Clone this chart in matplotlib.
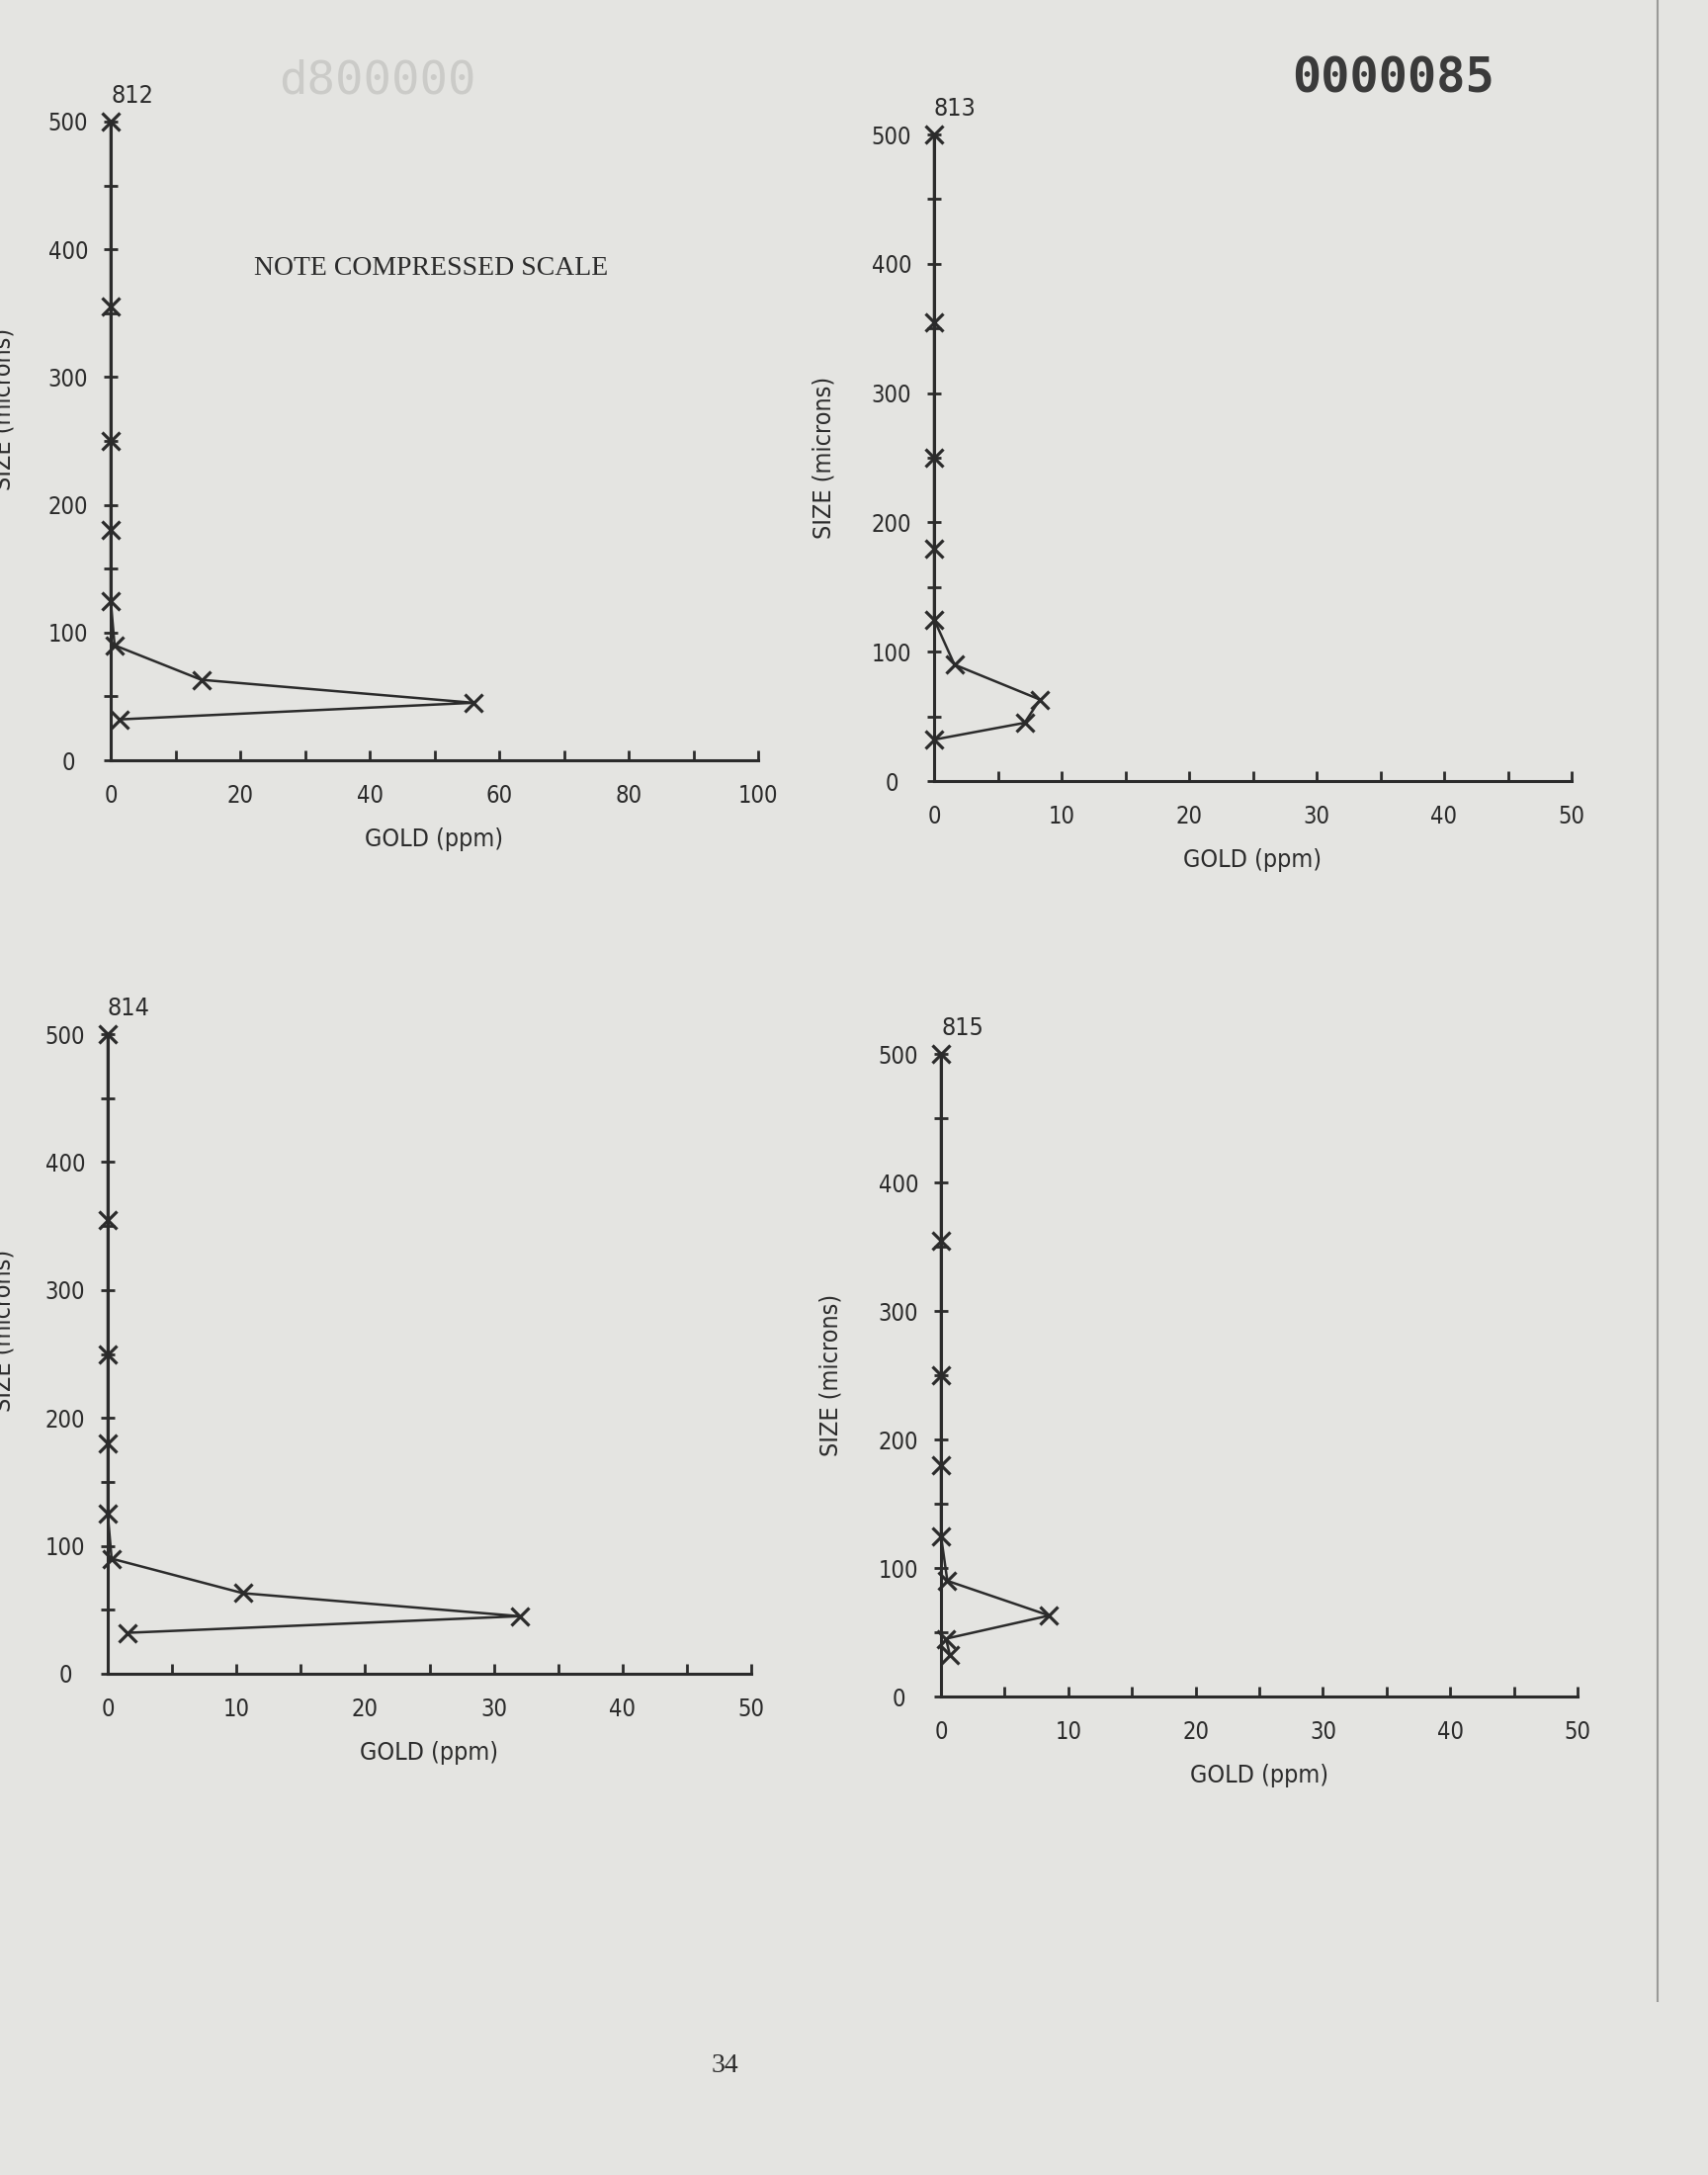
import matplotlib.pyplot as plt
from matplotlib.ticker import MultipleLocator

# sieve sizes (microns) and gold assays (ppm)
sizes = [500, 355, 250, 180, 125, 90, 63, 45, 32]
gold_812 = [0, 0, 0, 0, 0, 0.6, 14, 56, 1.4]
gold_813 = [0, 0, 0, 0, 0, 1.6, 8.3, 7.1, 0]
gold_814 = [0, 0, 0, 0, 0, 0.3, 10.5, 32, 1.5]
gold_815 = [0, 0, 0, 0, 0, 0.5, 8.5, 0.4, 0.7]

samples = ['812', '813', '814', '815']
gold = [gold_812, gold_813, gold_814, gold_815]
x_max = [100, 50, 50, 50]
x_step = [10, 5, 5, 5]
x_label_step = [20, 10, 10, 10]

W, H = 1728, 2200
paper = '#e4e4e1'
ink = '#2b2b2b'
plotter = dict(family=['DejaVu Sans'], stretch='condensed')

fig = plt.figure(figsize=(W / 100, H / 100), dpi=100, facecolor=paper)

# axes boxes in page pixels: left, right, top, bottom
boxes = [(112, 767, 123, 769), (945, 1590, 136, 790),
         (109, 760, 1046, 1693), (952, 1596, 1066, 1716)]

for i, (l, r, t, b) in enumerate(boxes):
    ax = fig.add_axes([l / W, 1 - b / H, (r - l) / W, (b - t) / H])
    ax.set_facecolor('none')
    ax.plot(gold[i], sizes, color=ink, lw=1.8, marker='x', ms=13, mew=2.3,
            clip_on=False, zorder=3)
    ax.set_xlim(0, x_max[i])
    ax.set_ylim(0, 500)
    for s in ['top', 'right']:
        ax.spines[s].set_visible(False)
    for s in ['left', 'bottom']:
        ax.spines[s].set_linewidth(2.2)
        ax.spines[s].set_color(ink)

    ax.xaxis.set_major_locator(MultipleLocator(x_label_step[i]))
    ax.xaxis.set_minor_locator(MultipleLocator(x_step[i]))
    ax.yaxis.set_major_locator(MultipleLocator(100))
    ax.yaxis.set_minor_locator(MultipleLocator(50))
    ax.tick_params(axis='x', which='both', direction='in', length=7, width=2,
                   color=ink, pad=17, labelsize=17, labelcolor=ink)
    ax.tick_params(axis='y', which='both', direction='inout', length=10, width=2,
                   color=ink, pad=26, labelsize=17, labelcolor=ink)
    for lab in ax.get_yticklabels():
        lab.set_horizontalalignment('center')
        lab.set_fontstretch('condensed')
    for lab in ax.get_xticklabels():
        lab.set_fontstretch('condensed')

    ax.set_xlabel('GOLD (ppm)', fontsize=18, color=ink, labelpad=15, **plotter)
    ax.set_title(samples[i], loc='left', fontsize=18, color=ink, pad=14, **plotter)

    if i in (1, 3):
        ax.set_ylabel('SIZE (microns)', fontsize=18, color=ink, labelpad=26, **plotter)

# y labels of the left column are cut off by the page edge
fig.text(4 / W, 1 - 414 / H, 'SIZE (microns)', rotation=90, ha='center', va='center',
         fontsize=18, color=ink, **plotter)
fig.text(4 / W, 1 - 1346 / H, 'SIZE (microns)', rotation=90, ha='center', va='center',
         fontsize=18, color=ink, **plotter)

fig.text(436 / W, 1 - 272 / H, 'NOTE COMPRESSED SCALE', ha='center', va='center',
         family=['Liberation Serif', 'DejaVu Serif'], fontsize=20, color=ink)

# page stamp, show-through from the next page, page number
fig.text(1410 / W, 1 - 80 / H, '0000085', ha='center', va='center',
         family=['DejaVu Sans Mono'], fontweight='bold', fontsize=35, color='#3a3a3a')
fig.text(382 / W, 1 - 82 / H, 'd800000', ha='center', va='center',
         family=['DejaVu Sans Mono'], fontsize=34, color='#cbcbc8')
fig.text(733 / W, 1 - 2090 / H, '34', ha='center', va='center',
         family=['Liberation Serif', 'DejaVu Serif'], fontsize=20, color=ink)

# right edge of the scanned sheet
fig.add_artist(plt.Line2D([1677 / W, 1677 / W], [0.08, 1], color='#9a9a98', lw=1.5))

fig.savefig('out.png', dpi=100, facecolor=paper)
